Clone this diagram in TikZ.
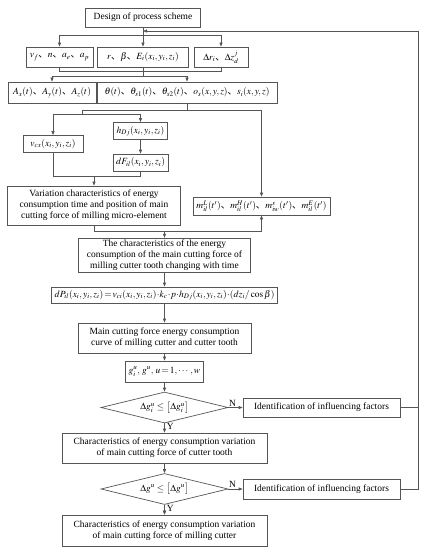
\documentclass[tikz,border=0pt]{standalone}
\usepackage{amsmath,amssymb}
\usepackage{mathptmx}
\usepackage{fontspec}
\setmainfont{Liberation Serif}
\newfontfamily\cjk{Noto Sans CJK SC}
\usepackage{tikz}
\usetikzlibrary{arrows.meta,calc,positioning,shapes.geometric}
\definecolor{LineGray}{HTML}{555555}
\newcommand{\dunhao}{{\cjk 、}}

\begin{document}
\begin{tikzpicture}[x=1bp,y=-1bp,font=\fontsize{9.5}{11}\selectfont,
          box/.style={draw=LineGray,line width=0.7pt,fill=white,align=center,
                      inner xsep=3pt,inner ysep=2pt,minimum height=17bp},
          check/.style={diamond,draw=LineGray,line width=0.7pt,fill=white,
                        aspect=4.1,inner sep=0pt,minimum width=127bp,minimum height=31bp},
          flow/.style={-{Triangle[length=4bp,width=3bp]},draw=LineGray,line width=0.7pt},
          link/.style={draw=LineGray,line width=0.7pt}]
        \useasboundingbox (0,0) rectangle (428,550);
        % Parameter stage
        \node[box,minimum width=115bp,minimum height=19bp] (design) at (143,17.5) {Design of process scheme};
        \node[box,minimum width=67bp,minimum height=20bp] (cutpar) at (59.5,57)
          {$v_f$\dunhao$n$\dunhao$a_e$\dunhao$a_p$};
        \node[box,minimum width=91bp,minimum height=20bp] (toolpar) at (143,57)
          {$r$\dunhao$\beta$\dunhao$E_i(x_i,y_i,z_i)$};
        \node[box,minimum width=54bp,minimum height=20bp] (steppar) at (221,57)
          {$\Delta r_i$\dunhao$\Delta z^{j}_{d}$};
        \node[box,minimum width=88bp,minimum height=21bp] (accel) at (52,92.5)
          {$A_x(t)$\dunhao$A_y(t)$\dunhao$A_z(t)$};
        \node[box,minimum width=180bp,minimum height=21bp] (angles) at (187,92.5)
          {$\theta(t)$\dunhao$\theta_{s1}(t)$\dunhao$\theta_{s2}(t)$\dunhao$o_s(x,y,z)$\dunhao$s_i(x,y,z)$};
        % Micro-element stage
        \node[box,minimum width=60bp] (speed) at (53,144) {$v_{cx}(x_i,y_i,z_i)$};
        \node[box,minimum width=53bp] (thick) at (140.5,131) {$h_{Dj}(x_i,y_i,z_i)$};
        \node[box,minimum width=53bp] (force) at (140.5,162.5) {$dF_{il}(x_i,y_i,z_i)$};
        \node[box,minimum width=173bp,minimum height=39bp] (variation) at (94,205.5)
          {Variation characteristics of energy\\consumption time and position of main\\cutting force of milling micro-element};
        \node[box,minimum width=137bp,minimum height=18bp] (moments) at (261.5,206)
          {$m^{L}_{il}(t')$\dunhao$m^{H}_{il}(t')$\dunhao$m^{s}_{iw}(t')$\dunhao$m^{E}_{il}(t')$};
        % Main chain
        \node[box,minimum width=172bp,minimum height=33bp] (toothtime) at (164.5,255.5)
          {The characteristics of the energy\\consumption of the main cutting force of\\milling cutter tooth changing with time};
        \node[box,minimum width=215bp,minimum height=16bp] (power) at (164.5,295)
          {$dP_{il}(x_i,y_i,z_i)\!=\!v_{ci}(x_i,y_i,z_i)\!\cdot\! k_c\!\cdot\! p\!\cdot\! h_{Dj}(x_i,y_i,z_i)\!\cdot\!(dz_i/\cos\beta)$};
        \node[box,minimum width=173bp,minimum height=30bp] (curve) at (164.5,338)
          {Main cutting force energy consumption\\curve of milling cutter and cutter tooth};
        \node[box,minimum width=75bp,minimum height=21bp] (index) at (164.5,371.5)
          {$g_i^u,\,g^u,\,u\!=\!1,\cdots,w$};
        \node[check] (checktooth) at (164.5,407.5)
          {$\Delta g_i^u\le\bigl[\Delta g_i^u\bigr]$};
        \node[box,minimum width=205bp,minimum height=30bp] (toothres) at (164.5,448)
          {Characteristics of energy consumption variation\\of main cutting force of cutter tooth};
        \node[check] (checkcutter) at (164.5,489)
          {$\Delta g^u\le\bigl[\Delta g^u\bigr]$};
        \node[box,minimum width=205bp,minimum height=31bp] (cutterres) at (164.5,530.5)
          {Characteristics of energy consumption variation\\of main cutting force of milling cutter};
        \node[box,minimum width=157bp,minimum height=19bp] (factorsA) at (321.5,407.5)
          {Identification of influencing factors};
        \node[box,minimum width=157bp,minimum height=20bp] (factorsB) at (321.5,489)
          {Identification of influencing factors};
        % Branch points
        \coordinate (feedtop) at (418,31);
        \coordinate (feedin) at (143,31);
        \coordinate (splitpar) at (143,35);
        \coordinate (mergepar) at (143,71);
        \coordinate (splitkin) at (143,76);
        \coordinate (splitang) at (187,110);
        \coordinate (bendang) at (82,110);
        \coordinate (splitmic) at (82,114);
        \coordinate (mergemic) at (94,176);
        \coordinate (splitvar) at (164.5,231);
        \draw[link] (design) -- (splitpar);
        \foreach \target in {cutpar,toolpar,steppar}
          \draw[flow] (splitpar) -| (\target);
        \foreach \source in {cutpar,toolpar,steppar}
          \draw[link] (\source) |- (mergepar);
        \draw[link] (mergepar) -- (splitkin);
        \draw[flow] (splitkin) -| (accel);
        \draw[flow] (splitkin) -| (angles);
        \draw[link] (angles) -- (splitang) -- (bendang) -- (splitmic);
        \draw[flow] (splitang) -| (moments);
        \draw[flow] (splitmic) -| (speed);
        \draw[flow] (splitmic) -| (thick);
        \draw[flow] (thick) -- (force);
        \draw[link] (speed) |- (mergemic);
        \draw[link] (force) |- (mergemic);
        \draw[flow] (mergemic) -- (variation);
        \draw[link] (variation) |- (splitvar);
        \draw[flow] (splitvar) -| (moments);
        \draw[flow] (splitvar) -- (toothtime);
        \foreach \a/\b in {toothtime/power,power/curve,curve/index,index/checktooth,checkcutter/cutterres}
          \draw[flow] (\a) -- (\b);
        \draw[flow] (checktooth) -- node[right,pos=0.35,inner sep=2pt]{Y} (toothres);
        \draw[flow] (toothres) -- (checkcutter);
        \draw[flow] (checkcutter) -- node[right,pos=0.35,inner sep=2pt]{Y} (cutterres);
        \draw[flow] (checktooth) -- node[above,pos=0.3,inner sep=1pt]{N} (factorsA);
        \draw[flow] (checkcutter) -- node[above,pos=0.3,inner sep=1pt]{N} (factorsB);
        % Feedback to the design of process scheme
        \draw[link] (factorsA) -- (factorsA -| feedtop);
        \draw[flow] (factorsB) -| (feedtop) -- (feedin);
      \end{tikzpicture}
\end{document}
